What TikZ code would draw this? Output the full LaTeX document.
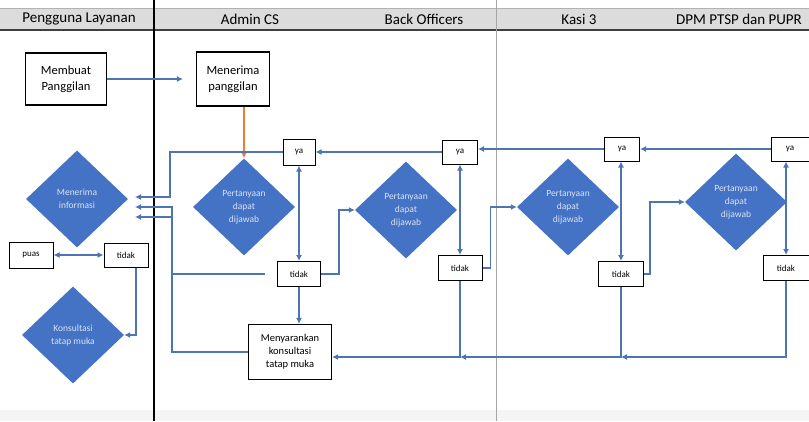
\documentclass[tikz,border=0pt]{standalone}
\usepackage{fontspec}
\setmainfont{Carlito}
\usetikzlibrary{shapes.geometric,arrows.meta}
\definecolor{belahbiru}{HTML}{4472C4}
\definecolor{alurbiru}{HTML}{4F74B3}
\definecolor{oranye}{HTML}{ED7D31}
\definecolor{abu}{HTML}{DCDCDC}

\begin{document}
\begin{tikzpicture}[x=1pt,y=-1pt,
  judul/.style={font=\fontsize{15}{17}\selectfont},
  kotak/.style={draw=black,line width=1.1pt,fill=white,inner sep=1pt,align=center},
  kecil/.style={kotak,line width=1pt,font=\fontsize{9}{10}\selectfont},
  belah/.style={diamond,fill=belahbiru,text=white!80!belahbiru,inner sep=0pt,align=center,
    minimum width=102pt,minimum height=97pt,font=\fontsize{9.5}{13}\selectfont},
  garis/.style={draw=alurbiru,line width=1.4pt},
  alur/.style={garis,-{Latex[length=6pt,width=6pt]}},
  dua/.style={garis,{Latex[length=6pt,width=6pt]}-{Latex[length=6pt,width=6pt]}}]
\useasboundingbox (0,0) rectangle (809,421);
\fill[abu] (0,8) rectangle (809,30);
\draw[black!30,line width=0.6pt] (0,8) -- (809,8);
\draw[black!75,line width=1.2pt] (0,30) -- (809,30);
\fill[black!4] (0,410) rectangle (809,421);
\draw[line width=1.6pt] (154,0) -- (154,421);
\draw[black!35,line width=0.8pt] (496,0) -- (496,421);

\node[judul] (hPengguna) at (79,19) {Pengguna Layanan};
\node[judul] (hAdmin) at (250,19) {Admin CS};
\node[judul] (hBack) at (424,19) {Back Officers};
\node[judul] (hKasi) at (579,19) {Kasi 3};
\node[judul] (hDpm) at (739,19) {DPM PTSP dan PUPR};

\node[kotak,minimum width=81pt,minimum height=52pt,font=\fontsize{12.5}{16}\selectfont] (membuat) at (66,79) {Membuat\\Panggilan};
\node[kotak,minimum width=73pt,minimum height=54pt,font=\fontsize{12.5}{16}\selectfont] (menerima) at (233,79) {Menerima\\panggilan};
\node[belah] (terima) at (77,199) {Menerima\\informasi};
\node[kecil,minimum width=44pt,minimum height=26pt] (puas) at (31,255) {puas};
\node[kecil,minimum width=44pt,minimum height=24pt] (tidak0) at (126,255) {tidak};
\node[belah] (konsul) at (73,335) {Konsultasi\\tatap muka};

\node[belah] (tanyaCS) at (244,207) {Pertanyaan\\dapat\\dijawab};
\node[kecil,minimum width=32pt,minimum height=26pt] (ya1) at (299,152) {ya};
\node[kecil,minimum width=43pt,minimum height=25pt] (tidak1) at (299,274) {tidak};
\node[kotak,minimum width=83pt,minimum height=55pt,font=\fontsize{10.5}{13}\selectfont] (saran) at (290,352) {Menyarankan\\konsultasi\\tatap muka};

\node[belah] (tanyaBO) at (406,210) {Pertanyaan\\dapat\\dijawab};
\node[kecil,minimum width=35pt,minimum height=24pt] (ya2) at (460,152) {ya};
\node[kecil,minimum width=44pt,minimum height=25pt] (tidak2) at (460,268) {tidak};

\node[belah] (tanyaKasi) at (568,207) {Pertanyaan\\dapat\\dijawab};
\node[kecil,minimum width=35pt,minimum height=24pt] (ya3) at (622,149) {ya};
\node[kecil,minimum width=45pt,minimum height=25pt] (tidak3) at (621,274) {tidak};

\node[belah] (tanyaDpm) at (736,202) {Pertanyaan\\dapat\\dijawab};
\node[kecil,minimum width=38pt,minimum height=24pt] (ya4) at (790,149) {ya};
\node[kecil,minimum width=46pt,minimum height=25pt] (tidak4) at (786,268) {tidak};

\coordinate (masukA) at (135,197);
\coordinate (masukB) at (135,207);
\coordinate (masukC) at (135,217);
\coordinate (simpangBO) at (460,357);
\coordinate (simpangKasi) at (621,357);

\draw[alur,shorten >=13pt] (membuat) -- (menerima);
\draw[draw=oranye,line width=1.4pt,-{Latex[length=6pt,width=6pt]}] (menerima.south -| tanyaCS.north) -- (tanyaCS.north);
\draw[alur] (ya1.west) -- (170,152) -- (170,197) -- (masukA);
\draw[alur] (saran.west) -- (172,352) -- (172,207) -- (masukB);
\draw[alur,shorten <=12pt] (tidak1.west) -- (172,274) -- (172,217) -- (masukC);
\draw[dua] (puas.east) -- (tidak0.west);
\draw[alur] ([xshift=10pt]tidak0.south) |- (konsul.east);

\draw[dua] (ya1.south) -- (tidak1.north);
\draw[alur] (tidak1.south) -- (saran.north -| tidak1.south);
\draw[alur] (tidak1.east) -- ++(18,0) |- (tanyaBO.west);
\draw[alur] (ya2.west) -- (ya1.east);
\draw[dua] (ya2.south) -- (tidak2.north);
\draw[alur] (tidak2.east) -- ++(8,0) |- (tanyaKasi.west);
\draw[alur] (tidak2.south) -- (simpangBO) -- (saran.east |- simpangBO);
\draw[alur] (ya3.west) -- (ya3.west -| ya2.east);
\draw[dua] (ya3.south -| tidak3.north) -- (tidak3.north);
\draw[alur] (tidak3.east) -- ++(6,0) |- (tanyaDpm.west);
\draw[alur] (tidak3.south) -- (simpangKasi) -- (simpangBO);
\draw[alur] (ya4.west) -- (ya4.west -| ya3.east);
\draw[dua] (ya4.south -| tidak4.north) -- (tidak4.north);
\draw[alur] (tidak4.south) |- (simpangKasi);
\end{tikzpicture}
\end{document}
